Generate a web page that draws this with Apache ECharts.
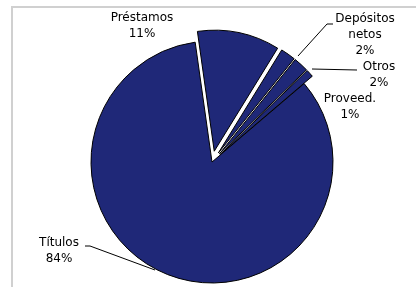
<!DOCTYPE html>
<html><head><meta charset="utf-8">
<script src="https://cdn.jsdelivr.net/npm/echarts@6/dist/echarts.min.js"></script>
<style>
html,body{margin:0;padding:0;background:#fff;}
#frame{position:absolute;left:11px;top:6px;width:405px;height:281px;border-top:2px solid #d0d0d0;border-left:2px solid #d0d0d0;}
#c{position:absolute;left:0;top:0;width:416px;height:287px;}
</style></head>
<body>
<div id="frame"></div>
<div id="c"></div>
<script>
// Data
var categories = ['Préstamos', 'Depósitos\nnetos', 'Otros', 'Proveed.', 'Títulos'];
var shares = [11, 2, 2, 1, 84];
var exploded = [true, true, true, true, false];

// Label placement (styling only)
var labelPos = [
  {x:142, y:26, line:null},
  {x:365, y:35, line:[[298,56],[327,24],[333,24]]},
  {x:379, y:75, line:[[312,69],[357,70]]},
  {x:350, y:107, line:null},
  {x:59, y:251, line:[[155,270],[90,246],[85,246]]}
];

var sliceData = categories.map(function(name, i){
  return {name: name, value: shares[i], selected: exploded[i]};
});
var labelData = categories.map(function(name, i){
  return {name: name, value: shares[i], labelLine: {show: !!labelPos[i].line}};
});

var common = {
  type: 'pie',
  center: [212, 162],
  radius: 121,
  startAngle: 98,
  clockwise: true,
  avoidLabelOverlap: false,
  emphasis: {disabled: true}
};

var chart = echarts.init(document.getElementById('c'), null, {renderer:'canvas'});
chart.setOption({
  animation: false,
  series: [
    Object.assign({}, common, {
      selectedMode: 'multiple',
      selectedOffset: 11,
      data: sliceData,
      itemStyle: {color: '#1f2878', borderColor: '#000', borderWidth: 1},
      label: {show: false},
      labelLine: {show: false}
    }),
    Object.assign({}, common, {
      silent: true,
      data: labelData,
      itemStyle: {color: 'rgba(0,0,0,0)', borderWidth: 0},
      label: {
        show: true,
        position: 'outside',
        color: '#000',
        fontFamily: 'DejaVu Sans',
        fontSize: 12,
        lineHeight: 16,
        align: 'center',
        formatter: function(p){ return p.name + '\n' + p.value + '%'; }
      },
      labelLine: {show: true, lineStyle: {color: '#000', width: 1}},
      labelLayout: function(p){
        var lp = labelPos[p.dataIndex];
        var o = {x: lp.x, y: lp.y, align: 'center', verticalAlign: 'middle'};
        if (lp.line) o.labelLinePoints = lp.line;
        return o;
      }
    })
  ]
});
</script>
</body></html>
